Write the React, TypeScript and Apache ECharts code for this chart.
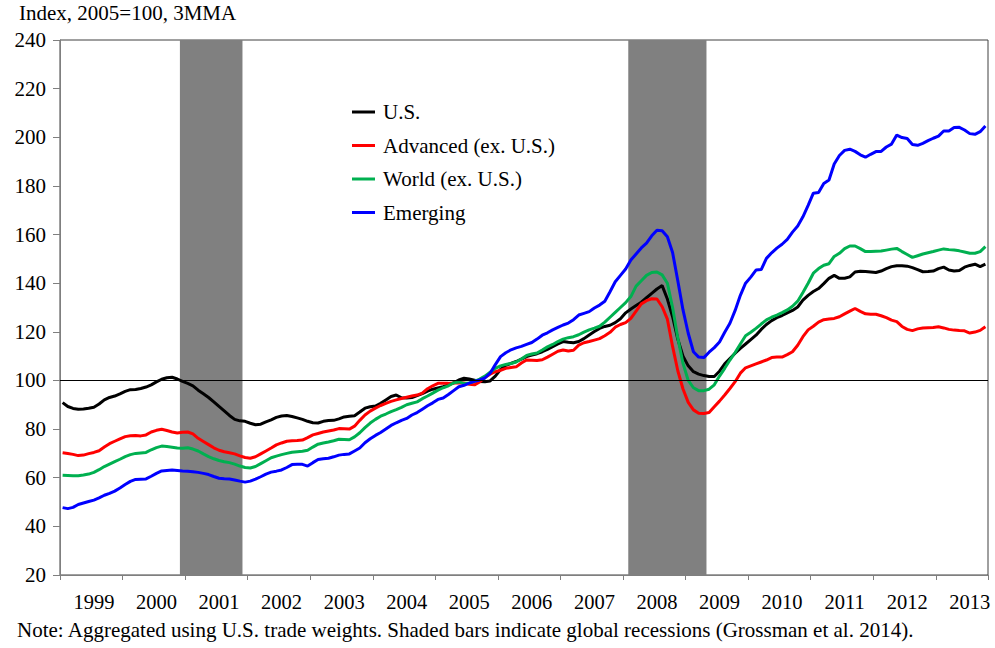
import React, { useEffect, useRef } from "react";
import * as echarts from "echarts";

const startYear = 1999;
const monthCount = 178; // Jan 1999 .. Oct 2013
const categories: string[] = [];
for (let i = 0; i < monthCount; i++) {
  const y = startYear + Math.floor(i / 12);
  const m = (i % 12) + 1;
  categories.push(`${y}-${m < 10 ? "0" + m : m}`);
}

const us = [
  90.9, 89.3, 88.5, 88.2, 88.3, 88.6, 89.0, 90.3, 92.0, 93.0, 93.6, 94.5,
  95.5, 96.2, 96.3, 96.7, 97.3, 98.2, 99.4, 100.5, 101.1, 101.3, 100.6, 99.6,
  98.8, 97.8, 96.0, 94.5, 93.0, 91.2, 89.3, 87.5, 85.6, 84.0, 83.4, 83.2,
  82.4, 81.8, 82.0, 83.0, 83.8, 84.8, 85.4, 85.6, 85.2, 84.6, 84.0, 83.2,
  82.6, 82.5, 83.2, 83.5, 83.6, 84.2, 85.0, 85.3, 85.5, 87.0, 88.6, 89.2,
  89.5, 90.6, 92.0, 93.4, 94.0, 92.9, 92.8, 93.0, 93.8, 94.6, 95.6, 96.4,
  96.9, 97.4, 98.2, 99.0, 100.2, 100.9, 100.6, 100.1, 99.6, 99.5, 99.8, 101.8,
  104.5, 106.2, 107.0, 107.8, 108.8, 109.8, 110.4, 111.0, 111.8, 112.8, 113.9, 115.0,
  116.0, 115.7, 115.5, 116.0, 117.2, 118.7, 120.1, 121.4, 122.2, 122.7, 123.8, 125.4,
  127.8, 129.4, 130.8, 132.2, 134.0, 135.8, 137.6, 139.0, 133.5, 126.2, 117.0, 110.0,
  106.0, 103.6, 102.6, 102.0, 101.6, 101.6, 103.8, 106.8, 109.0, 111.2, 113.2, 115.0,
  116.8, 118.6, 121.0, 123.0, 124.6, 125.8, 126.7, 127.8, 128.8, 130.2, 133.0, 135.0,
  136.6, 137.8, 139.8, 142.0, 143.2, 142.0, 142.0, 142.6, 144.6, 144.9, 144.8, 144.6,
  144.4, 145.0, 146.0, 146.8, 147.2, 147.2, 147.0, 146.4, 145.6, 144.7, 144.8, 145.0,
  146.0, 146.6, 145.4, 145.0, 145.2, 146.6, 147.3, 147.8, 146.8, 147.8,
];

const advanced = [
  70.3, 70.0, 69.6, 69.1, 69.3, 69.9, 70.4, 71.1, 72.6, 74.0, 75.0, 76.0,
  76.9, 77.3, 77.4, 77.2, 77.6, 78.8, 79.5, 79.9, 79.4, 78.8, 78.4, 78.7,
  78.8, 78.0, 76.2, 74.9, 73.6, 72.3, 71.3, 70.7, 70.3, 69.8, 69.0, 68.3,
  68.0, 68.6, 69.8, 71.0, 72.2, 73.5, 74.3, 75.0, 75.2, 75.3, 75.5, 76.5,
  77.6, 78.2, 78.8, 79.2, 79.6, 80.2, 80.1, 80.0, 81.2, 83.6, 85.8, 87.4,
  88.6, 89.7, 90.6, 91.4, 92.0, 92.6, 93.1, 93.6, 94.0, 94.8, 96.6, 97.8,
  98.8, 98.9, 98.8, 99.0, 99.1, 99.0, 98.4, 98.2, 99.4, 101.2, 102.6, 103.6,
  104.2, 105.0, 105.3, 105.6, 107.2, 108.4, 108.3, 108.2, 108.5, 109.6, 110.8, 112.0,
  112.5, 112.1, 112.4, 114.5, 115.5, 116.0, 116.6, 117.2, 118.4, 119.8, 121.9, 123.0,
  123.8, 125.5, 128.5, 131.5, 132.8, 133.6, 133.5, 130.3, 125.2, 114.0, 104.0, 96.5,
  91.0, 87.9, 86.5, 86.4, 86.8, 89.2, 91.5, 94.0, 96.7, 99.5, 103.0, 105.2,
  106.0, 106.8, 107.6, 108.4, 109.4, 109.6, 109.6, 110.6, 111.8, 114.5, 118.0, 120.8,
  122.3, 124.0, 125.0, 125.3, 125.5, 126.2, 127.4, 128.5, 129.6, 128.4, 127.4, 127.2,
  127.2, 126.6, 125.8, 124.8, 124.2, 122.2, 121.0, 120.5, 121.2, 121.6, 121.7, 121.8,
  122.1, 121.6, 121.0, 120.7, 120.5, 120.4, 119.5, 119.9, 120.6, 122.1,
];

const world = [
  61.0, 60.9, 60.8, 60.8, 61.1, 61.5, 62.2, 63.3, 64.6, 65.6, 66.6, 67.6,
  68.7, 69.5, 70.0, 70.2, 70.4, 71.5, 72.4, 73.0, 72.8, 72.5, 72.2, 72.1,
  72.3, 71.8, 71.0, 69.8, 68.7, 67.8, 67.1, 66.6, 66.2, 65.6, 64.8, 64.2,
  64.0, 64.6, 65.8, 67.0, 68.2, 68.9, 69.5, 70.0, 70.5, 70.7, 70.9, 71.3,
  72.6, 73.8, 74.3, 74.7, 75.2, 75.8, 75.7, 75.6, 76.8, 78.5, 80.6, 82.5,
  84.0, 85.3, 86.2, 87.2, 88.0, 88.9, 90.0, 90.6, 91.2, 92.5, 93.6, 94.8,
  96.0, 97.0, 97.8, 99.0, 99.4, 98.8, 99.0, 99.6, 100.6, 101.8, 103.4, 105.0,
  106.0, 106.6, 107.0, 107.6, 108.8, 110.3, 110.9, 111.3, 112.5, 113.8, 114.8, 116.0,
  117.0, 117.6, 118.0, 118.8, 119.9, 120.8, 121.5, 122.3, 124.0, 126.0, 128.0, 130.0,
  132.0, 134.5, 138.8, 141.0, 143.2, 144.4, 144.6, 143.4, 140.0, 130.0, 117.5, 107.0,
  100.0, 97.0, 95.8, 95.8, 96.4, 98.2, 101.8, 105.0, 108.4, 111.5, 115.0, 118.4,
  119.8, 121.4, 123.2, 124.9, 126.0, 126.9, 127.9, 129.0, 130.5, 132.6, 136.2, 140.0,
  144.1, 146.0, 147.4, 148.0, 151.0, 152.3, 154.2, 155.3, 155.3, 154.2, 153.0, 153.0,
  153.1, 153.2, 153.6, 154.0, 154.3, 153.0, 151.8, 150.6, 151.3, 152.0, 152.5, 153.0,
  153.6, 154.1, 153.8, 153.6, 153.3, 152.8, 152.3, 152.3, 153.0, 155.0,
];

const emerging = [
  47.7, 47.3, 47.8, 49.0, 49.6, 50.2, 50.8, 51.7, 52.8, 53.6, 54.5, 55.8,
  57.2, 58.5, 59.3, 59.4, 59.5, 60.6, 61.8, 62.8, 63.0, 63.2, 63.0, 62.8,
  62.7, 62.5, 62.2, 61.8, 61.3, 60.5, 59.8, 59.6, 59.5, 59.1, 58.6, 58.2,
  58.6, 59.4, 60.4, 61.5, 62.3, 62.7, 63.2, 64.2, 65.4, 65.5, 65.5, 64.8,
  66.2, 67.5, 67.8, 68.0, 68.6, 69.3, 69.6, 69.8, 71.0, 72.2, 74.4, 76.0,
  77.4, 78.6, 80.0, 81.5, 82.6, 83.6, 84.4, 85.8, 86.8, 88.2, 89.6, 90.8,
  92.2, 92.8, 94.2, 95.8, 97.4, 98.0, 98.9, 99.6, 100.2, 101.0, 103.0, 106.5,
  109.8, 111.4, 112.6, 113.4, 114.0, 114.8, 115.6, 117.0, 118.6, 119.6, 120.8, 121.8,
  122.8, 123.6, 125.0, 126.9, 127.6, 128.3, 129.8, 131.0, 132.6, 136.5, 140.6, 143.2,
  145.8, 149.5, 152.0, 154.5, 156.5, 159.5, 161.8, 161.6, 159.1, 152.6, 141.0, 129.0,
  119.4, 111.8, 109.6, 109.4, 111.6, 113.5, 115.8, 119.8, 123.5, 128.8, 135.0, 140.0,
  142.5, 145.4, 145.6, 150.2, 152.5, 154.4, 156.0, 158.0, 161.0, 163.5, 167.3, 172.0,
  177.0, 177.3, 181.0, 182.4, 189.0, 192.5, 194.6, 195.1, 194.2, 192.8, 191.8, 193.0,
  194.1, 194.2, 196.0, 197.2, 200.9, 199.9, 199.5, 197.0, 196.7, 197.5, 198.6, 199.6,
  200.5, 202.6, 202.6, 204.0, 204.1, 203.0, 201.5, 201.2, 202.3, 204.6,
];

// global recessions: first and last month inside the shaded bar
const recessionPeriods: [string, string][] = [
  ["2000-12", "2001-11"],
  ["2008-02", "2009-04"],
];

const seriesNames = ["U.S.", "Advanced (ex. U.S.)", "World (ex. U.S.)", "Emerging"];
const seriesColors = ["#000000", "#FF0000", "#00B050", "#0000FF"];
const seriesData = [us, advanced, world, emerging];

const yMin = 20;
const yMax = 240;
const yStep = 20;
const refLevel = 100;

const titleText = "Index, 2005=100, 3MMA";
const noteText =
  "Note: Aggregated using U.S. trade weights. Shaded bars indicate global recessions (Grossman et al. 2014).";

const FONT = "'Liberation Serif', 'Times New Roman', serif";

export default function App() {
  const ref = useRef<HTMLDivElement>(null);
  useEffect(() => {
    if (!ref.current) return;
    const chart = echarts.init(ref.current, undefined, { renderer: "svg" });
    // month slots on a hidden value axis: slot i spans [i, i+1], same as category i
    const recessionAreas = recessionPeriods.map(([a, b]) => [
      { xAxis: categories.indexOf(a) },
      { xAxis: categories.indexOf(b) + 1 },
    ]);
    chart.setOption({
      animation: false,
      backgroundColor: "#ffffff",
      textStyle: { fontFamily: FONT },
      title: {
        text: titleText,
        left: 19,
        top: 2,
        padding: 0,
        textStyle: { fontSize: 21, fontWeight: "normal", color: "#000", fontFamily: FONT },
      },
      graphic: [
        {
          type: "text",
          left: 17,
          top: 619,
          style: { text: noteText, fontSize: 21, fill: "#000", fontFamily: FONT },
        },
      ],
      grid: {
        left: 60,
        right: 7,
        top: 40,
        bottom: 73,
        show: true,
        borderColor: "#404040",
        borderWidth: 1,
        backgroundColor: "transparent",
      },
      legend: {
        data: seriesNames,
        orient: "vertical",
        left: 352,
        top: 101,
        padding: 0,
        icon: "rect",
        itemWidth: 23,
        itemHeight: 3,
        itemGap: 11.5,
        textStyle: {
          fontSize: 21,
          lineHeight: 22,
          color: "#000",
          fontFamily: FONT,
          padding: [0, 0, 0, 3],
        },
      },
      xAxis: [
        {
          type: "category",
          data: categories,
          boundaryGap: true,
          axisLine: { show: true, lineStyle: { color: "#7f7f7f", width: 1 } },
          axisTick: {
            show: true,
            length: 5,
            interval: (index: number) => index % 12 === 0,
            lineStyle: { color: "#7f7f7f" },
          },
          axisLabel: {
            interval: (index: number) => index % 12 === 6,
            formatter: (v: string) => v.slice(0, 4),
            fontSize: 20.5,
            color: "#000",
            margin: 16.5,
            fontFamily: FONT,
          },
          splitLine: { show: false },
        },
        {
          type: "value",
          min: 0,
          max: monthCount,
          show: false,
          splitLine: { show: false },
        },
      ],
      yAxis: {
        type: "value",
        min: yMin,
        max: yMax,
        interval: yStep,
        axisLine: { show: true, lineStyle: { color: "#7f7f7f", width: 1 } },
        axisTick: { show: true, length: 7, lineStyle: { color: "#7f7f7f" } },
        axisLabel: { fontSize: 21, color: "#000", margin: 14, fontFamily: FONT },
        splitLine: { show: false },
      },
      series: [
        {
          name: "Recession",
          type: "line",
          xAxisIndex: 1,
          data: [],
          z: 1,
          silent: true,
          markArea: {
            silent: true,
            itemStyle: { color: "#808080", opacity: 1 },
            data: recessionAreas,
          },
        },
        {
          name: "Reference",
          type: "line",
          xAxisIndex: 1,
          data: [],
          z: 2,
          silent: true,
          markLine: {
            silent: true,
            symbol: "none",
            label: { show: false },
            lineStyle: { color: "#000", width: 1, type: "solid" },
            data: [{ yAxis: refLevel }],
          },
        },
        ...seriesNames.map((name, k) => ({
          name,
          type: "line",
          data: seriesData[k],
          symbol: "none",
          showSymbol: false,
          color: seriesColors[k],
          lineStyle: { color: seriesColors[k], width: 3 },
          z: 3,
        })),
      ],
    });
    return () => chart.dispose();
  }, []);
  return <div ref={ref} style={{ width: 995, height: 648, position: "absolute", left: 0, top: 0 }} />;
}
